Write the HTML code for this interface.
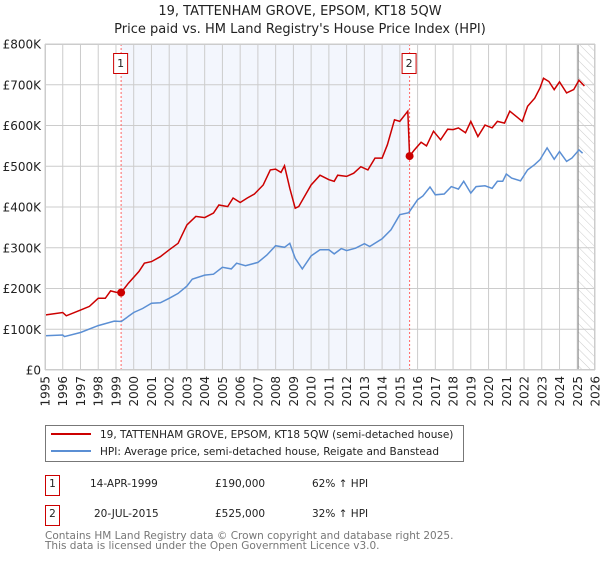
<!DOCTYPE html>
<html><head><meta charset="utf-8"><style>
body{margin:0;background:#fff;width:600px;height:560px;overflow:hidden;font-family:"DejaVu Sans","Liberation Sans",sans-serif;}
svg text{font-family:"DejaVu Sans","Liberation Sans",sans-serif;}
</style></head><body>
<svg id="chart" width="600" height="560" viewBox="0 0 600 560" xmlns="http://www.w3.org/2000/svg">
<defs><pattern id="hatch" width="6" height="6" patternUnits="userSpaceOnUse" patternTransform="rotate(-45)"><line x1="0" y1="0" x2="0" y2="6" stroke="#ccc" stroke-width="1"/></pattern></defs>
<text x="300" y="15" font-size="13" text-anchor="middle" fill="#222">19, TATTENHAM GROVE, EPSOM, KT18 5QW</text>
<text x="300" y="33" font-size="13" text-anchor="middle" fill="#222">Price paid vs. HM Land Registry's House Price Index (HPI)</text>
<g id="plot"></g>
<g>
<rect x="45.5" y="425.5" width="418" height="36" fill="#fff" stroke="#777"/>
<line x1="51" y1="434" x2="91" y2="434" stroke="#cc0000" stroke-width="2"/>
<text x="100" y="438" font-size="10.5" fill="#222">19, TATTENHAM GROVE, EPSOM, KT18 5QW (semi-detached house)</text>
<line x1="51" y1="451" x2="91" y2="451" stroke="#5b8fd4" stroke-width="2"/>
<text x="100" y="455" font-size="10.5" fill="#222">HPI: Average price, semi-detached house, Reigate and Banstead</text>
</g>
<g font-size="10.5" fill="#222">
<rect x="45.5" y="475.5" width="14" height="20" fill="#fff" stroke="#cc0000"/>
<text x="52.5" y="487" text-anchor="middle">1</text>
<text x="90" y="487">14-APR-1999</text><text x="215" y="487">£190,000</text><text x="312" y="487">62% ↑ HPI</text>
<rect x="45.5" y="505.5" width="14" height="20" fill="#fff" stroke="#cc0000"/>
<text x="52.5" y="517" text-anchor="middle">2</text>
<text x="94" y="517">20-JUL-2015</text><text x="215" y="517">£525,000</text><text x="312" y="517">32% ↑ HPI</text>
</g>
<text x="45" y="539" font-size="10.5" fill="#777">Contains HM Land Registry data © Crown copyright and database right 2025.</text>
<text x="45" y="549" font-size="10.5" fill="#777">This data is licensed under the Open Government Licence v3.0.</text>
</svg>
<script>
const yTicks=[0,100,200,300,400,500,600,700,800];
const yTickLabels=["£0","£100K","£200K","£300K","£400K","£500K","£600K","£700K","£800K"];
const years=[1995,1996,1997,1998,1999,2000,2001,2002,2003,2004,2005,2006,2007,2008,2009,2010,2011,2012,2013,2014,2015,2016,2017,2018,2019,2020,2021,2022,2023,2024,2025,2026];
const hpiT=[1995.0,1996.0,1996.1,1997.0,1998.0,1998.9,1999.3,2000.0,2000.5,2001.0,2001.5,2002.0,2002.5,2003.0,2003.3,2004.0,2004.5,2005.0,2005.5,2005.8,2006.3,2007.0,2007.5,2008.0,2008.5,2008.8,2009.1,2009.5,2010.0,2010.5,2011.0,2011.3,2011.7,2012.0,2012.5,2013.0,2013.3,2014.0,2014.5,2015.0,2015.5,2016.0,2016.3,2016.7,2017.0,2017.5,2017.9,2018.3,2018.6,2019.0,2019.3,2019.8,2020.2,2020.5,2020.8,2021.0,2021.3,2021.8,2022.2,2022.6,2022.9,2023.3,2023.7,2024.0,2024.4,2024.7,2025.1,2025.3];
const hpiV=[84,86,82,92,109,120,119,141,151,164,165,176,188,206,223,233,235,252,248,262,256,264,282,305,301,311,274,248,280,295,295,285,298,293,299,310,303,322,344,381,386,418,427,449,430,432,450,444,463,434,450,452,446,463,463,481,471,464,491,504,516,545,517,536,512,520,540,532];
const propT=[1995.0,1996.0,1996.2,1997.0,1997.5,1998.0,1998.4,1998.7,1999.0,1999.29,1999.7,2000.3,2000.6,2001.0,2001.5,2002.0,2002.5,2003.0,2003.5,2004.0,2004.5,2004.8,2005.3,2005.6,2006.0,2006.4,2006.8,2007.3,2007.7,2008.0,2008.3,2008.5,2008.8,2009.1,2009.3,2010.0,2010.5,2011.0,2011.3,2011.5,2012.0,2012.4,2012.8,2013.2,2013.6,2014.0,2014.3,2014.7,2015.0,2015.45,2015.55,2015.8,2016.2,2016.5,2016.9,2017.3,2017.7,2018.0,2018.3,2018.7,2019.0,2019.4,2019.8,2020.2,2020.5,2020.9,2021.2,2021.6,2021.9,2022.2,2022.6,2022.9,2023.1,2023.4,2023.7,2024.0,2024.4,2024.8,2025.1,2025.4];
const propV=[135,141,133,147,156,176,176,194,191,190,213,242,262,266,278,295,311,356,377,374,385,405,401,422,411,422,432,454,491,493,485,501,446,397,401,454,478,467,463,478,475,483,499,491,520,520,553,614,610,635,525,539,559,550,586,565,591,590,594,582,610,573,601,594,610,606,635,621,610,647,667,692,716,708,688,707,680,688,711,697];
const saleT=[1999.29,2015.55];
const saleV=[190,525];
const saleLabels=["1","2"];
const hatchStart=2025.05;

const L=45,R=595,T=44,B=370;
const x=t=>L+(t-1995)/(2026-1995)*(R-L);
const y=v=>B-v/800*(B-T);
const NS="http://www.w3.org/2000/svg";
const g=document.getElementById('plot');
function mk(tag,attrs,parent){const e=document.createElementNS(NS,tag);for(const k in attrs)e.setAttribute(k,attrs[k]);(parent||g).appendChild(e);return e;}

const bg=mk('rect',{x:L,y:T,width:R-L,height:B-T,fill:'#fff'});


const sh=mk('rect',{x:x(saleT[0]),y:T,width:x(saleT[1])-x(saleT[0]),height:B-T,fill:'#f0f4fd',opacity:0.8});


const ht=mk('rect',{x:x(hatchStart),y:T,width:R-x(hatchStart),height:B-T,fill:'url(#hatch)'});


for(const yr of years){
  const l=mk('line',{x1:x(yr),x2:x(yr),y1:T,y2:B,stroke:'#ccc','stroke-width':1});
  
  
  const tx=mk('text',{x:0,y:0,'font-size':12,fill:'#222','text-anchor':'end',transform:`translate(${x(yr)+4.5},${B+6}) rotate(-90)`});
  tx.textContent=yr;
  
  
}
yTicks.forEach((v,i)=>{
  const l=mk('line',{x1:L,x2:R,y1:y(v),y2:y(v),stroke:'#ccc','stroke-width':1});
  
  
  const tx=mk('text',{x:L-4,y:y(v)+4.5,'font-size':12,fill:'#222','text-anchor':'end'});
  tx.textContent=yTickLabels[i];
  
  
});
const vl=mk('line',{x1:x(hatchStart),x2:x(hatchStart),y1:T,y2:B,stroke:'#888','stroke-width':1});


saleT.forEach((t,i)=>{
  const l=mk('line',{x1:x(t),x2:x(t),y1:T,y2:B,stroke:'#f66','stroke-width':1,'stroke-dasharray':'2,2'});
  
  
});
const path=(ts,vs)=>ts.map((t,i)=>(i?'L':'M')+x(t).toFixed(1)+','+y(vs[i]).toFixed(1)).join('');
const hp=mk('path',{d:path(hpiT,hpiV),fill:'none',stroke:'#5b8fd4','stroke-width':1.5});


const pp=mk('path',{d:path(propT,propV),fill:'none',stroke:'#cc0000','stroke-width':1.5});


saleT.forEach((t,i)=>{
  const c=mk('circle',{cx:x(t),cy:y(saleV[i]),r:4,fill:'#cc0000'});
  
  
  const bx=mk('rect',{x:x(t)-7.5,y:53.5,width:14,height:20,fill:'#fff',stroke:'#cc0000'});
  
  
  const tx=mk('text',{x:x(t)-0.5,y:67,'font-size':11,fill:'#222','text-anchor':'middle'});
  tx.textContent=saleLabels[i];
  
  
});
const fr=mk('rect',{x:L+0.5,y:T+0.5,width:R-L-1,height:B-T-1,fill:'none',stroke:'#ccc'});


</script>
</body></html>
